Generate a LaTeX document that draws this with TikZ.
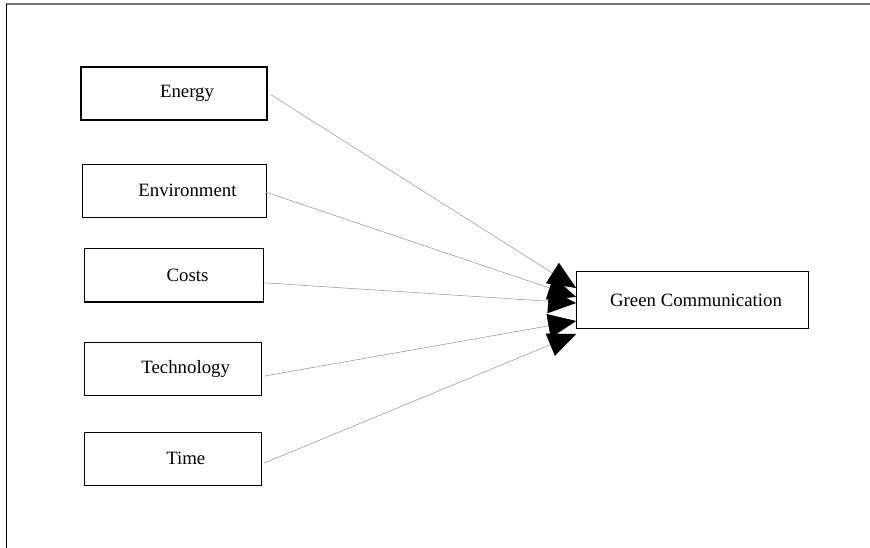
\documentclass[tikz,border=0pt]{standalone}
\usepackage{fontspec}
\setmainfont{Liberation Serif}
\usetikzlibrary{arrows.meta}
\begin{document}
\begin{tikzpicture}[x=1pt,y=-1pt,
  font=\fontsize{18.8}{22}\selectfont,
  box/.style={draw=black,line width=1.1pt,minimum height=53pt,inner sep=0pt},
  conn/.style={draw=black!38,line width=0.6pt,-{Triangle[length=28pt,width=24pt,color=black]}}]
\useasboundingbox (0,0) rectangle (870,548);
% frame
\draw[black!55,line width=1.6pt] (6,4) -- (870,4);
\draw[black,line width=1pt] (6,4) -- (6,548);
% boxes
\node[box,minimum width=186pt,label={[xshift=13pt]center:Energy}] (energy) at (174,93.5) {};
\node[box,minimum width=184pt,label={[xshift=12.8pt]center:Environment}] (env) at (174.7,190.8) {};
\node[box,minimum width=179pt,minimum height=53.3pt,label={[xshift=13.7pt]center:Costs}] (costs) at (173.8,275.3) {};
\node[box,minimum width=176.7pt,minimum height=52.7pt,label={[xshift=13pt]center:Technology}] (tech) at (172.7,368.7) {};
\node[box,minimum width=177pt,minimum height=52.7pt,label={[xshift=13pt]center:Time}] (time) at (172.8,458.7) {};
\node[box,minimum width=231.6pt,minimum height=56.6pt,label={[xshift=3.5pt]center:Green Communication}] (gc) at (692.5,300) {};
% connectors
\draw[conn] ([shift={(3pt,-1pt)}]energy.east) -- ([yshift=12pt]gc.west);
\draw[conn] ([shift={(-1pt,-1.5pt)}]env.east) -- ([yshift=3pt]gc.west);
\draw[conn] ([yshift=-7.5pt]costs.east) -- ([yshift=-3pt]gc.west);
\draw[conn] ([shift={(2pt,-7.5pt)}]tech.east) -- ([yshift=-21pt]gc.west);
\draw[conn] ([shift={(2pt,-4.5pt)}]time.east) -- ([yshift=-34pt]gc.west);
\end{tikzpicture}
\end{document}
